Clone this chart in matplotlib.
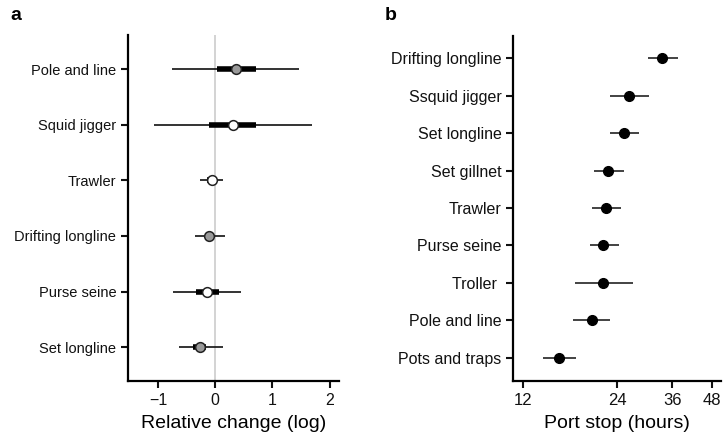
import numpy as np
import matplotlib
matplotlib.use("Agg")
import matplotlib.pyplot as plt
from matplotlib.ticker import FixedLocator, NullLocator

plt.rcParams['font.family'] = ['Liberation Sans', 'DejaVu Sans']

# Panel a: relative change (log)
gears_a = ["Pole and line", "Squid jigger", "Trawler", "Drifting longline", "Purse seine", "Set longline"]
est_a = [0.37, 0.32, -0.06, -0.10, -0.15, -0.27]
lo_a = [-0.76, -1.06, -0.27, -0.35, -0.73, -0.64]
hi_a = [1.47, 1.70, 0.14, 0.18, 0.45, 0.13]
lo50_a = [0.04, -0.10, -0.14, -0.18, -0.34, -0.38]
hi50_a = [0.71, 0.72, 0.02, -0.02, 0.06, -0.16]
fill_a = ["#999999", "white", "white", "#999999", "white", "#999999"]

# Panel b: port stop duration (hours)
gears_b = ["Drifting longline", "Ssquid jigger", "Set longline", "Set gillnet", "Trawler",
           "Purse seine", "Troller ", "Pole and line", "Pots and traps"]
est_b = [33.3, 26.2, 25.2, 22.5, 22.1, 21.7, 21.7, 20.0, 15.7]
lo_b = [30.1, 22.8, 22.8, 20.3, 20.0, 19.6, 17.6, 17.3, 13.9]
hi_b = [37.4, 30.3, 28.2, 25.2, 24.7, 24.4, 27.0, 22.8, 17.8]

fig = plt.figure(figsize=(7.24, 4.4), dpi=100)
ax1 = fig.add_axes([0.177, 0.134, 0.291, 0.786])
ax2 = fig.add_axes([0.709, 0.133, 0.287, 0.785])

for ax in (ax1, ax2):
    ax.spines['top'].set_visible(False)
    ax.spines['right'].set_visible(False)
    ax.spines['left'].set_linewidth(1.6)
    ax.spines['bottom'].set_linewidth(1.6)
    ax.tick_params(axis='both', width=1.5, length=5, colors='#111111')

ax1.tick_params(axis='y', labelsize=10.5)
ax1.tick_params(axis='x', labelsize=11.5)
ax2.tick_params(axis='y', labelsize=11.5)
ax2.tick_params(axis='x', labelsize=12)

# panel a
ya = np.arange(len(gears_a))[::-1]
ax1.axvline(0, color='#cccccc', lw=1.2, zorder=0)
ax1.hlines(ya, lo_a, hi_a, color='#111111', lw=1.2, zorder=2)
ax1.hlines(ya, lo50_a, hi50_a, color='black', lw=4, zorder=3)
for y, x, c in zip(ya, est_a, fill_a):
    ax1.plot(x, y, 'o', ms=7, mfc=c, mec='#222222', mew=1.1, zorder=4)
ax1.set_yticks(ya)
ax1.set_yticklabels(gears_a)
ax1.set_ylim(-0.61, 5.61)
ax1.set_xlim(-1.52, 2.16)
ax1.set_xticks([-1, 0, 1, 2])
ax1.set_xticklabels(["\u22121", "0", "1", "2"])
ax1.set_xlabel("Relative change (log)", fontsize=14, labelpad=5)

# panel b
yb = np.arange(len(gears_b))[::-1]
ax2.hlines(yb, lo_b, hi_b, color='#222222', lw=1.2, zorder=2)
ax2.plot(est_b, yb, 'o', ms=7, color='black', zorder=3)
ax2.set_xscale('log')
ax2.set_xlim(11.2, 51.5)
ax2.xaxis.set_major_locator(FixedLocator([12, 24, 36, 48]))
ax2.xaxis.set_minor_locator(NullLocator())
ax2.set_xticklabels(["12", "24", "36", "48"])
ax2.set_yticks(yb)
ax2.set_yticklabels(gears_b)
ax2.set_ylim(-0.63, 8.59)
ax2.set_xlabel("Port stop (hours)", fontsize=14, labelpad=5)

fig.text(0.015, 0.965, "a", fontsize=14, fontweight='bold', va='center')
fig.text(0.532, 0.965, "b", fontsize=14, fontweight='bold', va='center')

fig.savefig("out.png", dpi=100)
